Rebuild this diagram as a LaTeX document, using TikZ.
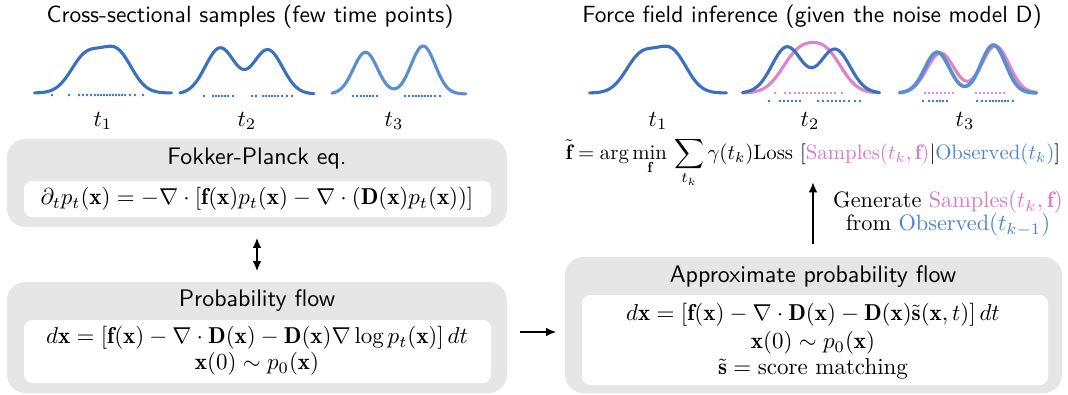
\documentclass[tikz,border=0pt]{standalone}
\usepackage{amsmath}
\usepackage{fontspec}
\usetikzlibrary{arrows.meta,fit,calc}
\definecolor{boxgray}{HTML}{E6E6E6}
\definecolor{cblue}{HTML}{3A70BE}
\definecolor{cblueL}{HTML}{5A8ECF}
\definecolor{cpink}{HTML}{DC84CB}
\definecolor{tpink}{HTML}{D67BC8}
\definecolor{tblue}{HTML}{4A85CF}
\begin{document}
\begin{tikzpicture}[x=0.435pt,y=-0.435pt,
  declare function={g(\u,\m,\s)=exp(-0.5*((\u-\m)/\s)^2);},
  outerbox/.style={fill=boxgray,rounded corners=8pt,inner sep=0pt},
  innerbox/.style={fill=white,rounded corners=3.6pt,inner sep=0pt},
  boxtitle/.style={font=\sffamily\fontsize{10.4}{12}\selectfont,inner sep=1pt},
  ttl/.style={font=\sffamily\fontsize{10.2}{12}\selectfont,inner sep=1pt},
  curve/.style={line width=1.35pt,line cap=round,line join=round},
  arr/.style={line width=0.9pt,-{Latex[length=4.5pt,width=3.8pt]}},
  darr/.style={line width=0.9pt,{Latex[length=4.5pt,width=3.8pt]}-{Latex[length=4.5pt,width=3.8pt]}},
  dot/.style={fill=cblue}, pdot/.style={fill=cpink},
  eq/.style={inner sep=0pt},
  gentext/.style={inner sep=0pt,font=\fontsize{9.7}{11}\selectfont}]
\useasboundingbox (0,0) rectangle (1068,394);

% titles
\node[ttl] (ttlL) at (250,17) {Cross-sectional samples (few time points)};
\node[ttl] (ttlR) at (812,17) {Force field inference (given the noise model D)};

% ---- left curves ----
\draw[curve,cblue] plot[domain=-1:1,samples=90] ({103+68.5*\x},{93-40.5*(0.9*g(\x,-0.25,0.22)+g(\x,0.2,0.22))});
\draw[curve,cblue] plot[domain=-1:1,samples=90] ({247+67*\x},{94-46*(g(\x,-0.4,0.22)+0.96*g(\x,0.31,0.22))});
\draw[curve,cblueL] plot[domain=-1:1,samples=90] ({399+67*\x},{94-48*(0.87*g(\x,-0.5,0.18)+g(\x,0.36,0.18))});
\foreach \p in {52,69,79,83,87,91,95,98,101,104,107,110,113,116,119,122,125,130,135,143}
  \fill[dot] (\p,95) circle (1.3);
\foreach \p in {204,213,216,219,222,225,228,233,252,256,263,266,269,272,275,278,282,287,292}
  \fill[dot] (\p,96) circle (1.3);
\foreach \p in {353,357,361,364,367,370,373,377,405,409,413,416,419,422,425,428,431,435,440}
  \fill[dot] (\p,96) circle (1.3);
\node (l1) at (103,121) {$t_1$};
\node (l2) at (247,121) {$t_2$};
\node (l3) at (394,121) {$t_3$};

% ---- right curves ----
\draw[curve,cblue] plot[domain=-1:1,samples=90] ({658+68.5*\x},{93-40.5*(0.9*g(\x,-0.25,0.22)+g(\x,0.2,0.22))});
\draw[curve,cpink] plot[domain=-1:1,samples=90] ({811+68.5*\x},{93-38*(0.95*g(\x,-0.2,0.24)+g(\x,0.22,0.24))});
\draw[curve,cblue] plot[domain=-1:1,samples=90] ({811+68.5*\x},{93-46*(g(\x,-0.35,0.22)+0.95*g(\x,0.35,0.22))});
\draw[curve,cpink] plot[domain=-1:1,samples=90] ({968+68.5*\x},{93-47*(0.85*g(\x,-0.4,0.2)+g(\x,0.4,0.2))});
\draw[curve,cblueL,line width=1.6pt] plot[domain=-1:1,samples=90] ({968+68.5*\x},{93-48*(0.85*g(\x,-0.45,0.18)+g(\x,0.37,0.18))});
\foreach \p in {775,785,790,795,799,803,807,811,815,819,823,827,831,835,842}
  \fill[pdot] (\p,93) circle (1.3);
\foreach \p in {769,780,784,788,792,796,800,818,823,828,832,836,840,844,849,855,860}
  \fill[dot] (\p,101) circle (1.3);
\foreach \p in {925,929,933,937,941,945,949,953,976,980,984,988,992,996,1000,1004}
  \fill[pdot] (\p,93) circle (1.3);
\foreach \p in {923,929,933,937,940,943,947,977,982,986,990,993,996,999,1002,1005,1008,1013}
  \fill[dot] (\p,101) circle (1.3);
\node (r1) at (658,121) {$t_1$};
\node (r2) at (810,121) {$t_2$};
\node (r3) at (965,121) {$t_3$};

% ---- Fokker-Planck box ----
\node[outerbox,fit={(7,139) (507,227)}] (box1) {};
\node[innerbox,fit={(24,181) (491,217)}] (box1in) {};
\node[boxtitle] (box1t) at (257,159) {Fokker-Planck eq.};
\node[eq] (box1e) at (257,199) {$\partial_t p_t(\mathbf{x}) = -\nabla\cdot\left[\mathbf{f}(\mathbf{x})p_t(\mathbf{x}) - \nabla\cdot\left(\mathbf{D}(\mathbf{x})p_t(\mathbf{x})\right)\right]$};

% ---- Probability flow box ----
\node[outerbox,fit={(7,282) (507,393)}] (box2) {};
\node[innerbox,fit={(24,320) (491,383)}] (box2in) {};
\node[boxtitle] (box2t) at (257,301) {Probability flow};
\node[eq] (box2e) at (257,338) {$d\mathbf{x} = \left[\mathbf{f}(\mathbf{x}) - \nabla\cdot\mathbf{D}(\mathbf{x}) - \mathbf{D}(\mathbf{x})\nabla\log p_t(\mathbf{x})\right]dt$};
\node[eq] (box2f) at (257,364) {$\mathbf{x}(0)\sim p_0(\mathbf{x})$};

% ---- Approximate probability flow box ----
\node[outerbox,fit={(565,257) (1062,393)}] (box3) {};
\node[innerbox,fit={(582,295) (1048,385)}] (box3in) {};
\node[boxtitle] (box3t) at (813,277) {Approximate probability flow};
\node[eq] (box3e) at (813,315) {$d\mathbf{x} = \left[\mathbf{f}(\mathbf{x}) - \nabla\cdot\mathbf{D}(\mathbf{x}) - \mathbf{D}(\mathbf{x})\tilde{\mathbf{s}}(\mathbf{x},t)\right]dt$};
\node[eq] (box3f) at (813,343) {$\mathbf{x}(0)\sim p_0(\mathbf{x})$};
\node[eq] (box3g) at (813,369) {$\tilde{\mathbf{s}} = \text{score matching}$};

% ---- loss equation ----
\node[anchor=base,inner sep=0pt] (loss) at (813,159) {\scalebox{0.905}{$\displaystyle \tilde{\mathbf{f}} = \arg\min_{\mathbf{f}}\, \sum_{t_k} \gamma(t_k)\mathrm{Loss}\,\left[\textcolor{tpink}{\mathrm{Samples}(t_k,\mathbf{f})}\middle|\textcolor{tblue}{\mathrm{Observed}(t_k)}\right]$}};
\node[gentext] (gen1) at (948,202) {Generate \textcolor{tpink}{Samples$(t_k,\mathbf{f})$}};
\node[gentext] (gen2) at (948,225) {from \textcolor{tblue}{Observed$(t_{k-1})$}};

% ---- connectors ----
\coordinate (uptip) at (813,182);
\draw[arr,shorten <=5.6pt] (box3.north -| uptip) -- (uptip);
\draw[darr,shorten <=4.4pt,shorten >=4.4pt] (box1.south -| box1t) -- (box2.north -| box1t);
\coordinate (ha) at ([shift={(13,-5.5)}]box2.east);
\draw[arr,shorten >=3.5pt] (ha) -- (ha -| box3.west);
\end{tikzpicture}
\end{document}
